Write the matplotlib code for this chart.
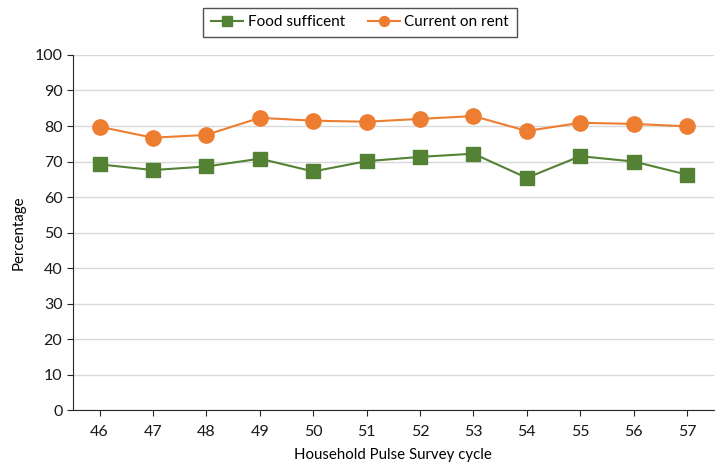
import matplotlib
matplotlib.use("Agg")
import matplotlib.pyplot as plt

cycles = ["46", "47", "48", "49", "50", "51", "52", "53", "54", "55", "56", "57"]
food_sufficient = [69.2, 67.6, 68.6, 70.8, 67.2, 70.1, 71.3, 72.2, 65.4, 71.5, 70.0, 66.3]
current_on_rent = [79.8, 76.7, 77.5, 82.3, 81.5, 81.2, 82.0, 82.8, 78.6, 80.9, 80.6, 79.9]
yticks = list(range(0, 101, 10))

plt.rcParams['font.family'] = ['Lato', 'DejaVu Sans']

fig = plt.figure(figsize=(7.21, 4.66), dpi=100)
ax = fig.add_axes([0.101, 0.120, 0.889, 0.762])

x = list(range(len(cycles)))
ax.plot(x, food_sufficient, color="#548235", marker="s", markersize=10,
        linewidth=1.5, markeredgecolor="#548235", label="Food sufficent", zorder=3)
ax.plot(x, current_on_rent, color="#ED7D31", marker="o", markersize=11,
        linewidth=1.5, markeredgecolor="#ED7D31", label="Current on rent", zorder=3)

ax.set_xlim(-0.5, len(cycles) - 0.5)
ax.set_ylim(0, 100)
ax.set_xticks(x)
ax.set_xticklabels(cycles)
ax.set_yticks(yticks)
ax.grid(axis="y", color="#d9d9d9", linewidth=1)
ax.set_axisbelow(True)
for s in ["top", "right"]:
    ax.spines[s].set_visible(False)
ax.spines["left"].set_color("#262626")
ax.spines["bottom"].set_color("#262626")
ax.tick_params(axis="both", labelsize=11.5, color="#262626", length=4, labelcolor="#1a1a1a")
ax.tick_params(axis="x", pad=7)

ax.set_xlabel("Household Pulse Survey cycle", fontsize=10.8, labelpad=6)
ax.set_ylabel("Percentage", fontsize=10.8, labelpad=6)

leg = ax.legend(loc="center", bbox_to_anchor=(0.448, 1.092), ncol=2,
                frameon=True, fancybox=False, edgecolor="#262626", fontsize=11,
                handlelength=2.1, handletextpad=0.3, columnspacing=1.5,
                markerscale=0.65, borderpad=0.5)
leg.get_frame().set_linewidth(1.0)

fig.savefig("out.png", dpi=100)
